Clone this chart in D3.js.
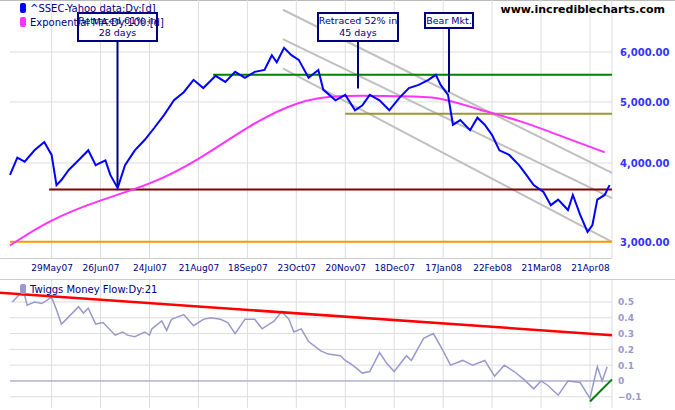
<!DOCTYPE html>
<html><head><meta charset="utf-8">
<script src="https://cdn.jsdelivr.net/npm/d3@7"></script>
<style>body{margin:0;background:#fff;} text{font-family:"DejaVu Sans",Verdana,sans-serif;}</style>
</head><body><div id="chart"></div>
<script>
// trading-day index (0 = 29 May 07), value
const priceIdx = [-17,-14,-11,-7,-3,0,2,4,7,11,15,18,22,24,27,30,34,38,42,46,50,54,58,62,67,71,75,79,83,87,90,92,95,98,101,105,109,111,116,120,124,127,130,134,138,142,146,150,154,157,159,162,164,167,171,174,177,180,183,187,191,194,197,201,204,207,211,213,216,219,221,223,226,228];
const priceVal = [3830,4080,4020,4190,4320,4120,3690,3760,3900,4040,4190,3970,4040,3830,3650,3970,4190,4350,4550,4770,5030,5180,5420,5260,5500,5380,5580,5460,5580,5620,5930,5780,6090,5930,5830,5460,5620,5230,5030,5130,4850,4940,5130,5030,4850,5070,5260,5320,5420,5520,5320,5130,4600,4680,4510,4720,4600,4430,4190,4120,3970,3830,3690,3600,3430,3500,3370,3560,3310,3110,3190,3500,3560,3690];
const emaIdx = [-17,-1,20,40,60,81,101,118,142,158,175,191,207,226];
const emaVal = [2960,3250,3500,3690,4040,4600,5030,5130,5100,5110,4850,4680,4430,4160];
const mfIdx = [-16,-13,-11,-10,-7,-4,-2,0,2,4,6,11,13,15,18,21,26,29,31,34,38,40,41,45,47,49,54,58,62,65,69,72,75,79,83,86,91,94,97,99,102,105,110,113,118,120,123,127,130,134,137,140,145,147,152,156,160,163,168,172,177,181,185,189,193,197,200,203,207,211,216,220,223,225,227];
const mfVal = [0.50,0.55,0.54,0.48,0.50,0.49,0.51,0.53,0.45,0.36,0.39,0.47,0.43,0.46,0.36,0.37,0.29,0.31,0.29,0.28,0.31,0.29,0.33,0.38,0.32,0.39,0.42,0.35,0.39,0.40,0.39,0.37,0.30,0.39,0.39,0.33,0.38,0.44,0.39,0.31,0.33,0.25,0.19,0.17,0.16,0.13,0.10,0.05,0.06,0.18,0.11,0.06,0.16,0.13,0.27,0.30,0.19,0.10,0.13,0.10,0.13,0.03,0.10,0.06,0.01,-0.05,0.00,-0.03,-0.09,0.00,-0.01,-0.11,0.09,0.00,0.09];
const dateTicks = [0,20,40,60,80,100,120,140,160,180,200,220];
const dateLabels = ["29May07","26Jun07","24Jul07","21Aug07","18Sep07","23Oct07","20Nov07","18Dec07","17Jan08","22Feb08","21Mar08","21Apr08"];
const priceTicks = [3000,4000,5000,6000];
const mfTicks = [-0.1,0,0.1,0.2,0.3,0.4,0.5];
// horizontal support/resistance levels
const levels = [{v:5520,from:66,c:"#008000"},{v:4790,from:120,c:"#999933"},{v:3630,from:-1,c:"#800000"},{v:3000,from:-17,c:"#ff9900"}];
// trend channel lines [idx1,v1,idx2,v2]
const channel = [[94.5,7000,229,3860],[94.5,6290,229,3520],[94.5,5650,229,3000]];
const redTrend = [-17,0.558,229,0.29];
const greenTrend = [220,-0.13,229,0.01];
const notes = [{idx:27,v:3680,lines:["Retraced 61% in","28 days"],x0:78,x1:157},{idx:125,v:5250,lines:["Retraced 52% in","45 days"],x0:318,x1:398},{idx:163,v:5180,lines:["Bear Mkt."],x0:425,x1:473}];

const W=675,H=410;
const svg=d3.select("#chart").append("svg").attr("width",W).attr("height",H);
const x=d3.scaleLinear().domain([-17,229]).range([10,612]);
const y=d3.scaleLog().domain([2828,7254]).range([258,0]);
const y2=d3.scaleLinear().domain([-0.171,0.639]).range([408,280]);
const grid="#dddddd";

svg.append("line").attr("x1",0).attr("x2",W).attr("y1",0.5).attr("y2",0.5).attr("stroke","#bbb");
// grids
[[0,258],[280,408]].forEach(([a,b])=>{
  svg.selectAll(null).data(dateTicks).join("line").attr("x1",d=>x(d)).attr("x2",d=>x(d)).attr("y1",a).attr("y2",b).attr("stroke",grid);
  svg.append("line").attr("x1",x(229)).attr("x2",x(229)).attr("y1",a).attr("y2",b).attr("stroke",grid);
});
svg.selectAll(null).data(priceTicks).join("line").attr("x1",10).attr("x2",612).attr("y1",d=>y(d)).attr("y2",d=>y(d)).attr("stroke",grid);
svg.selectAll(null).data(mfTicks).join("line").attr("x1",10).attr("x2",612).attr("y1",d=>y2(d)).attr("y2",d=>y2(d)).attr("stroke",grid);
svg.append("line").attr("x1",0).attr("x2",612).attr("y1",258.5).attr("y2",258.5).attr("stroke","#ccc");
svg.append("line").attr("x1",0).attr("x2",W).attr("y1",279.5).attr("y2",279.5).attr("stroke","#ccc");

// channel
channel.forEach(c=>svg.append("line").attr("x1",x(c[0])).attr("y1",y(c[1])).attr("x2",x(c[2])).attr("y2",y(c[3])).attr("stroke","#c0c0c0").attr("stroke-width",2));
levels.forEach(l=>svg.append("line").attr("x1",x(l.from)).attr("x2",x(229)).attr("y1",y(l.v)).attr("y2",y(l.v)).attr("stroke",l.c).attr("stroke-width",2));

const line=d3.line().x(d=>x(d[0])).y(d=>y(d[1]));
svg.append("path").attr("d",line.curve(d3.curveBasis)(d3.zip(emaIdx,emaVal))).attr("fill","none").attr("stroke","#ff33ff").attr("stroke-width",2);
svg.append("path").attr("d",line.curve(d3.curveLinear)(d3.zip(priceIdx,priceVal))).attr("fill","none").attr("stroke","#0000ff").attr("stroke-width",2);

// annotations
notes.forEach(n=>{
  const cx=(n.x0+n.x1)/2, h=n.lines.length>1?28:15;
  svg.append("line").attr("x1",cx).attr("x2",cx).attr("y1",13+h).attr("y2",y(n.v)).attr("stroke","#000080").attr("stroke-width",2);
  svg.append("rect").attr("x",n.x0).attr("y",13).attr("width",n.x1-n.x0).attr("height",h).attr("fill","#fff").attr("stroke","#000080").attr("stroke-width",2);
  n.lines.forEach((t,i)=>svg.append("text").attr("x",cx).attr("y",24+i*12).attr("text-anchor","middle").attr("font-size",9.5).attr("fill","#000080").text(t));
});

// legend
svg.append("rect").attr("x",20).attr("y",3).attr("width",6).attr("height",10).attr("rx",2).attr("fill","#0000ff");
svg.append("text").attr("x",30).attr("y",12).attr("font-size",10).attr("fill","#000080").text("^SSEC-Yahoo data:Dy:[d]");
svg.append("rect").attr("x",20).attr("y",17).attr("width",6).attr("height",10).attr("rx",2).attr("fill","#ff33ff");
svg.append("text").attr("x",30).attr("y",26).attr("font-size",10).attr("fill","#000080").text("Exponential MA:Dy:100:[d]");
svg.append("text").attr("x",665).attr("y",13).attr("text-anchor","end").attr("font-size",11).attr("font-weight","bold").attr("fill","#000").text("www.incrediblecharts.com");

// axes
svg.append("g").attr("transform","translate(612,0)").call(d3.axisRight(y).tickValues(priceTicks).tickSize(0).tickPadding(8).tickFormat(d3.format(",.2f")))
  .call(g=>g.select(".domain").remove()).selectAll("text").attr("font-size",10).attr("font-weight","bold").attr("fill","#3333ff");
svg.append("g").attr("transform","translate(0,262)").call(d3.axisBottom(x).tickValues(dateTicks).tickSize(0).tickFormat((d,i)=>dateLabels[i]))
  .call(g=>g.select(".domain").remove()).selectAll("text").attr("font-size",9).attr("fill","#000080");

// money flow panel
svg.append("line").attr("x1",10).attr("x2",612).attr("y1",y2(0)).attr("y2",y2(0)).attr("stroke","#9999cc");
const line2=d3.line().x(d=>x(d[0])).y(d=>y2(d[1]));
svg.append("path").attr("d",line2(d3.zip(mfIdx,mfVal))).attr("fill","none").attr("stroke","#9999cc").attr("stroke-width",1.5);
svg.append("line").attr("x1",0).attr("y1",y2(redTrend[1])).attr("x2",x(redTrend[2])).attr("y2",y2(redTrend[3])).attr("stroke","#ff0000").attr("stroke-width",2.5);
svg.append("line").attr("x1",x(greenTrend[0])).attr("y1",y2(greenTrend[1])).attr("x2",x(greenTrend[2])).attr("y2",y2(greenTrend[3])).attr("stroke","#008000").attr("stroke-width",2);
svg.append("g").attr("transform","translate(612,0)").call(d3.axisRight(y2).tickValues(mfTicks).tickSize(0).tickPadding(6).tickFormat(d=>d===0?"0":d3.format(".1f")(d)))
  .call(g=>g.select(".domain").remove()).selectAll("text").attr("font-size",9).attr("font-weight","bold").attr("fill","#9999cc");
svg.append("rect").attr("x",20).attr("y",284).attr("width",6).attr("height",10).attr("rx",2).attr("fill","#9999cc");
svg.append("text").attr("x",30).attr("y",293).attr("font-size",10).attr("fill","#000080").text("Twiggs Money Flow:Dy:21");
</script></body></html>
